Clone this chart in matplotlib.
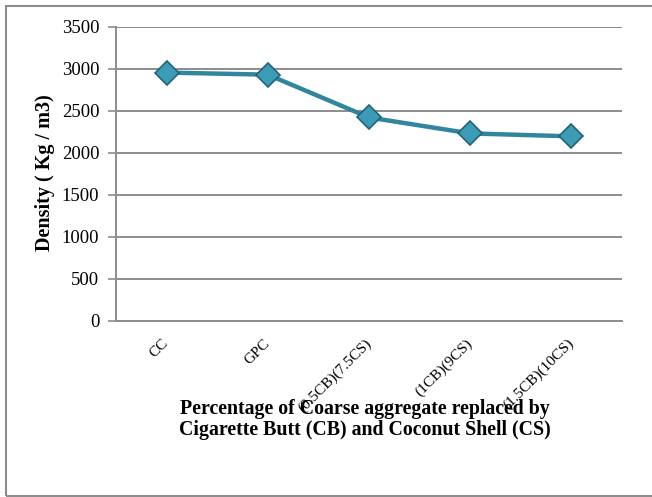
import matplotlib.pyplot as plt
import matplotlib.patches as mpatches

# density of each concrete mix
mixes = ["CC", "GPC", "(0.5CB)(7.5CS)", "(1CB)(9CS)", "(1.5CB)(10CS)"]
density = [2955, 2930, 2420, 2230, 2195]
y_ticks = [0, 500, 1000, 1500, 2000, 2500, 3000, 3500]

plt.rcParams["font.family"] = ["Liberation Serif", "DejaVu Serif"]

fig = plt.figure(figsize=(6.52, 4.97), dpi=100)
ax = fig.add_axes([0.178, 0.355, 0.776, 0.591])

# outer chart frame
frame = mpatches.Rectangle((6 / 652, 1 / 497), 1.2, 490 / 497,
                           transform=fig.transFigure, fill=False,
                           edgecolor="#8c8c8c", linewidth=1.5, zorder=0)
fig.patches.append(frame)

x = range(len(mixes))
ax.plot(x, density, "-", color="#31859c", linewidth=3.2, zorder=3)
ax.plot(x, density, "D", markersize=12.5, markerfacecolor="#3c9bb5",
        markeredgecolor="#23637a", markeredgewidth=1.2, zorder=4)

ax.set_xlim(-0.5, len(mixes) - 0.5)
ax.set_ylim(0, 3500)
ax.set_yticks(y_ticks)
ax.set_yticklabels([str(v) for v in y_ticks], fontsize=13.5)
ax.set_xticks(list(x))
ax.set_xticklabels(mixes, rotation=45, ha="right", va="center",
                   rotation_mode="anchor", fontsize=11)
ax.tick_params(axis="x", length=0, pad=15)
ax.tick_params(axis="y", length=6, width=1.2, color="#8c8c8c", pad=6)

ax.grid(True, axis="y", color="#8c8c8c", linewidth=1.4)
ax.set_axisbelow(True)
for side in ("top", "right"):
    ax.spines[side].set_visible(False)
for side in ("left", "bottom"):
    ax.spines[side].set_color("#8c8c8c")
    ax.spines[side].set_linewidth(1.4)

fig.text(0.069, 0.652, "Density ( Kg / m3)", rotation=90, ha="center",
         va="center", fontsize=14.5, fontweight="bold")
fig.text(0.56, 0.156,
         "Percentage of Coarse aggregate replaced by\n"
         "Cigarette Butt (CB) and Coconut Shell (CS)",
         ha="center", va="center", fontsize=14.3, fontweight="bold",
         linespacing=1.05)

fig.savefig("out.png", dpi=100)
